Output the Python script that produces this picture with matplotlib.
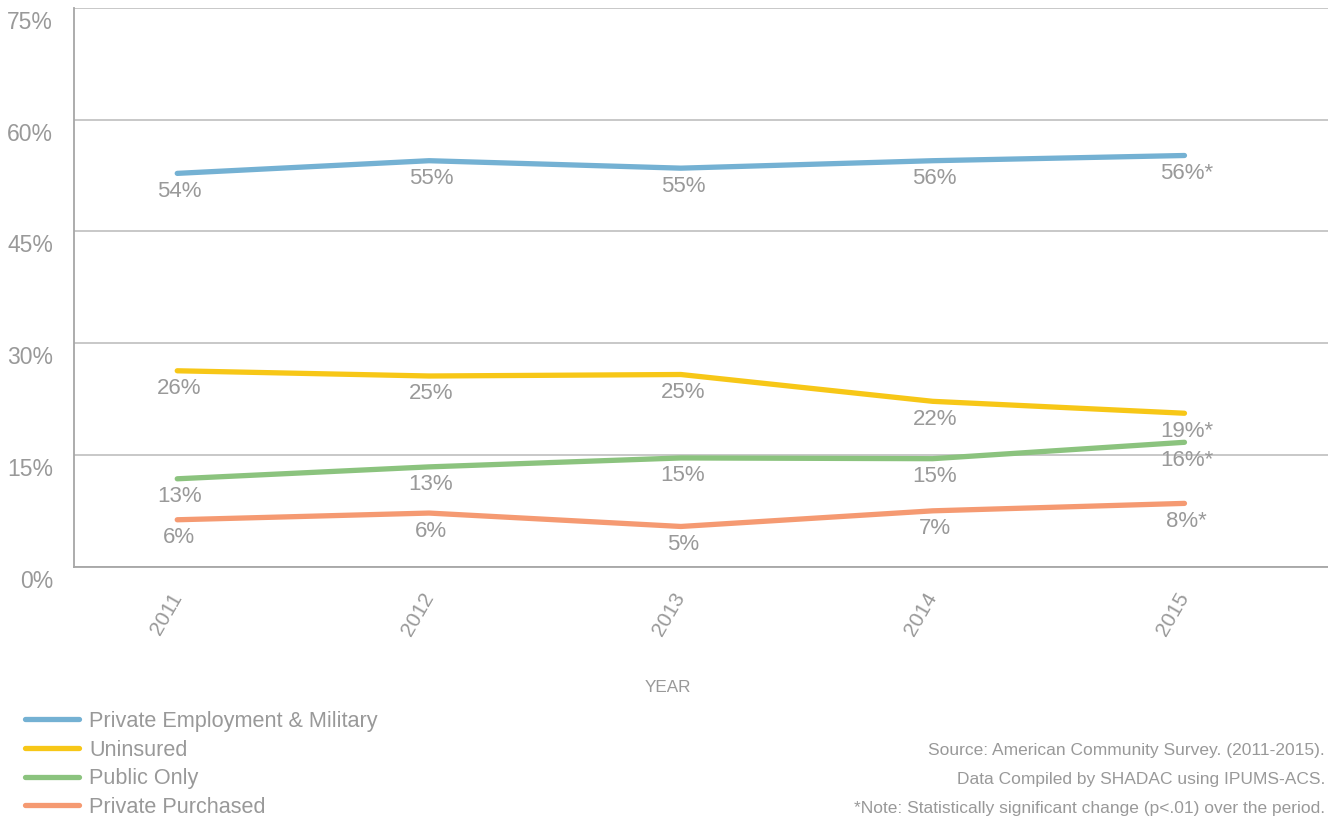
import matplotlib
matplotlib.use("Agg")
import matplotlib.pyplot as plt
import matplotlib.transforms as mtransforms

# ----- data
years = [2011, 2012, 2013, 2014, 2015]
private_emp = [52.8, 54.5, 53.5, 54.5, 55.2]
uninsured = [26.3, 25.6, 25.8, 22.2, 20.6]
public_only = [11.8, 13.4, 14.6, 14.5, 16.7]
private_purch = [6.3, 7.2, 5.4, 7.5, 8.5]

private_emp_labels = ["54%", "55%", "55%", "56%", "56%*"]
uninsured_labels = ["26%", "25%", "25%", "22%", "19%*"]
public_only_labels = ["13%", "13%", "15%", "15%", "16%*"]
private_purch_labels = ["6%", "6%", "5%", "7%", "8%*"]

series_names = ["Private Employment & Military", "Uninsured", "Public Only", "Private Purchased"]
colors = ["#74b1d3", "#f7c717", "#8bc37e", "#f59a72"]

yticks = [0, 15, 30, 45, 60, 75]

footnotes = ["Source: American Community Survey. (2011-2015).",
             "Data Compiled by SHADAC using IPUMS-ACS.",
             "*Note: Statistically significant change (p<.01) over the period."]

plt.rcParams['font.family'] = ['Liberation Sans', 'DejaVu Sans']
grey = "#999999"

fig = plt.figure(figsize=(13.28, 8.25), dpi=100)
ax = fig.add_axes([74 / 1328, 1 - 566.7 / 825, 1 - 74 / 1328, (566.7 - 8) / 825])

all_values = [private_emp, uninsured, public_only, private_purch]
all_labels = [private_emp_labels, uninsured_labels, public_only_labels, private_purch_labels]
for vals, labs, name, c in zip(all_values, all_labels, series_names, colors):
    ax.plot(years, vals, color=c, linewidth=3.8, solid_capstyle='round', label=name)
    for x, y, t in zip(years, vals, labs):
        ax.annotate(t, (x, y), xytext=(2, -18), textcoords='offset pixels',
                    ha='center', va='center', fontsize=16, color=grey)

# ----- axes decoration
ax.set_xlim(2010.59, 2015.57)
ax.set_ylim(0, 75)
ax.set_yticks(yticks)
ax.set_yticklabels([f"{v}%" for v in yticks], fontsize=16.5, color=grey)
ax.set_xticks(years)
ax.set_xticklabels([str(y) for y in years], fontsize=15, color=grey,
                   rotation=60, ha='right', va='center', rotation_mode='anchor')
ax.tick_params(axis='y', length=0, pad=15)
ax.tick_params(axis='x', length=0, pad=20)
offset = mtransforms.ScaledTranslation(0, -12 / 100, fig.dpi_scale_trans)
for lab in ax.get_yticklabels():
    lab.set_transform(lab.get_transform() + offset)

ax.grid(axis='y', color='#c4c4c4', linewidth=1.3)
ax.set_axisbelow(True)
for s in ['top', 'right']:
    ax.spines[s].set_visible(False)
for s in ['left', 'bottom']:
    ax.spines[s].set_color('#a6a6a6')
    ax.spines[s].set_linewidth(1.3)

fig.text(668 / 1328, 1 - 688 / 825, "YEAR", ha='center', va='center', fontsize=12.3, color=grey)

leg = fig.legend(loc='upper left', bbox_to_anchor=(25 / 1328, 1 - 711 / 825), frameon=False,
                 fontsize=15.6, handlelength=2.5, handletextpad=0.45, labelspacing=0.35,
                 borderpad=0, borderaxespad=0)
for t in leg.get_texts():
    t.set_color(grey)

for i, line in enumerate(footnotes):
    fig.text(1325 / 1328, 1 - (751 + 28.5 * i) / 825, line, ha='right', va='center',
             fontsize=12.5, color=grey)

fig.savefig("out.png", dpi=100)
